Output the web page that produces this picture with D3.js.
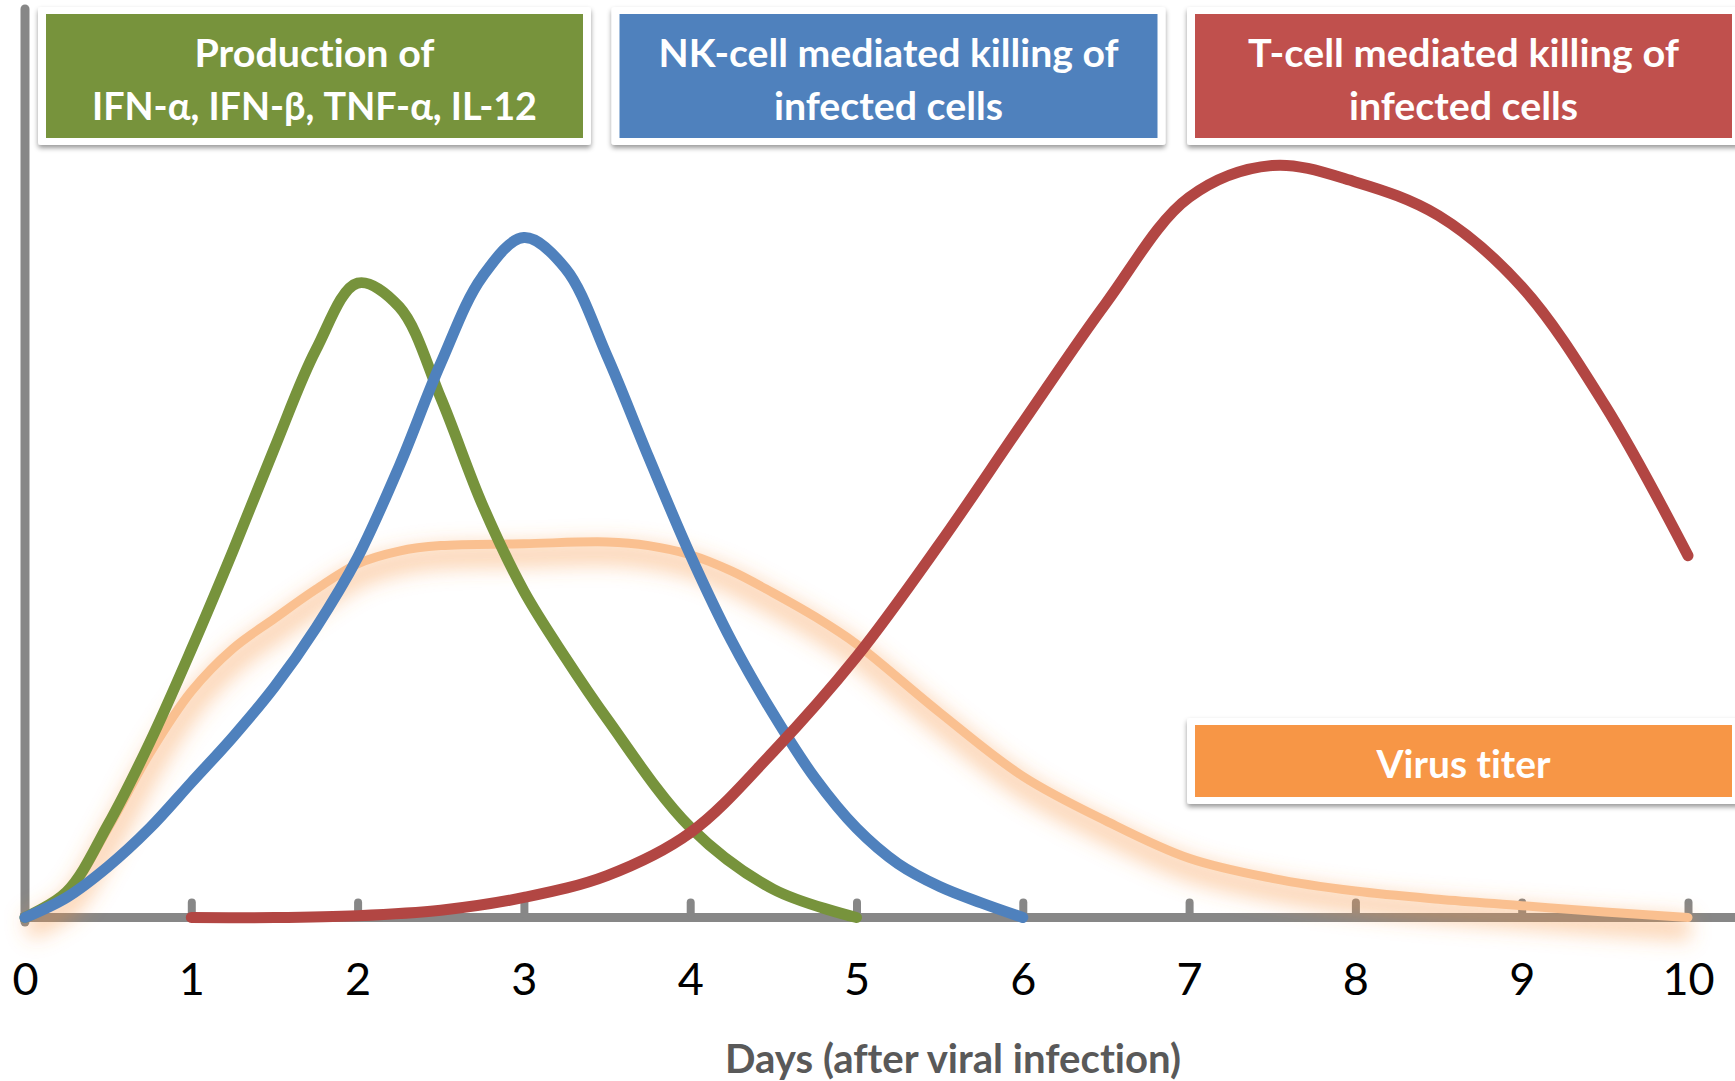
<!DOCTYPE html>
<html>
<head>
<meta charset="utf-8">
<script src="https://cdn.jsdelivr.net/npm/d3@7"></script>
<style>
  html, body { margin: 0; padding: 0; background: #ffffff; }
  svg { display: block; }
  text { font-variant-ligatures: none; font-feature-settings: "liga" 0, "clig" 0; }
</style>
</head>
<body>
<svg id="chart" width="1735" height="1081"></svg>
<script>
// ---------------- DATA ----------------
const tickLabels = [0, 1, 2, 3, 4, 5, 6, 7, 8, 9, 10];
const axisTitle = "Days (after viral infection)";

const seriesNames = ["IFN", "NK", "CTL", "Virus"];
const legendTexts = [
  ["Production of", "IFN-α, IFN-β, TNF-α, IL-12"],
  ["NK-cell mediated killing of", "infected cells"],
  ["T-cell mediated killing of", "infected cells"],
  ["Virus titer"]
];
const boxColors = ["#77933C", "#4F81BD", "#C0504D", "#F79646"];
const lineColors = ["#77933C", "#4F81BD", "#B24643", "#FAC090"];

const ifnDays   = [0, 0.25, 0.5, 0.75, 1, 1.25, 1.5, 1.75, 2, 2.25, 2.5, 2.75, 3, 3.25, 3.5, 4, 4.5, 5];
const ifnValues = [0, 2.8, 10.2, 19.2, 29.4, 40.2, 51.5, 62.3, 69.6, 67, 57, 45.3, 35.8, 28.5, 21.8, 9.9, 3.1, 0];

const nkDays   = [0, 0.25, 0.5, 0.75, 1, 1.25, 1.5, 1.75, 2, 2.25, 2.5, 2.75, 3, 3.25, 3.5, 3.75, 4, 4.25, 4.5, 4.75, 5, 5.25, 5.5, 5.75, 6];
const nkValues = [0, 2.2, 5.6, 9.8, 14.8, 19.8, 25.3, 31.8, 39.5, 49.5, 60.8, 70.3, 74.6, 71.2, 61.6, 50.5, 39.8, 30.3, 22.3, 15.3, 9.8, 5.9, 3.4, 1.6, 0];

const ctlDays   = [1, 1.5, 2, 2.5, 3, 3.5, 4, 4.5, 5, 5.5, 6, 6.5, 7, 7.5, 8, 8.5, 9, 9.5, 10];
const ctlValues = [0, 0, 0.2, 0.8, 2.2, 4.6, 9.3, 18.2, 28.6, 41, 54.3, 67.4, 79, 82.5, 80.7, 77, 69.2, 56.2, 39.7];

const virusDays   = [0, 0.25, 0.5, 0.75, 1, 1.25, 1.5, 1.75, 2, 2.25, 2.5, 3, 3.5, 3.75, 4, 4.25, 4.5, 4.75, 5, 5.5, 6, 6.5, 7, 7.5, 8, 8.5, 9, 9.5, 10];
const virusValues = [0, 2.6, 9.8, 18, 24.8, 29.5, 32.8, 36, 38.8, 40.2, 40.8, 41, 41.2, 40.8, 39.8, 38, 35.6, 33, 30, 22.5, 15.5, 10.6, 6.5, 4.3, 2.9, 2.0, 1.3, 0.6, 0];

// ---------------- LAYOUT ----------------
const W = 1735, H = 1081;
const svg = d3.select("#chart");
const x = d3.scaleLinear().domain([0, 10]).range([25, 1688]);
const y = d3.scaleLinear().domain([0, 100]).range([917.5, 6]);

const defs = svg.append("defs");
const sh = defs.append("filter").attr("id", "boxShadow")
  .attr("x", "-5%").attr("y", "-10%").attr("width", "110%").attr("height", "130%");
sh.append("feDropShadow").attr("dx", 0).attr("dy", 3).attr("stdDeviation", 2.5)
  .attr("flood-color", "#000").attr("flood-opacity", 0.4);

const glow = defs.append("filter").attr("id", "glow")
  .attr("x", "-10%").attr("y", "-20%").attr("width", "120%").attr("height", "150%");
glow.append("feGaussianBlur").attr("stdDeviation", 10);

// Axes (background)
const axisColor = "#878787";
svg.append("line")
  .attr("x1", 20.2).attr("x2", W)
  .attr("y1", y(0)).attr("y2", y(0))
  .attr("stroke", axisColor).attr("stroke-width", 9);
svg.append("line")
  .attr("x1", x(0)).attr("x2", x(0))
  .attr("y1", 9).attr("y2", y(0) + 4.5)
  .attr("stroke", axisColor).attr("stroke-width", 9).attr("stroke-linecap", "round");

// upward tick stubs using a d3 axis
const tickAxis = d3.axisBottom(x).tickValues(tickLabels.slice(1)).tickFormat("").tickSize(0).tickSizeOuter(0);
const tg = svg.append("g").attr("transform", `translate(0,${y(0) - 4})`).call(tickAxis);
tg.select(".domain").remove();
tg.selectAll(".tick line")
  .attr("y1", 0).attr("y2", -11)
  .attr("stroke", axisColor).attr("stroke-width", 8).attr("stroke-linecap", "round");

// tick labels via d3 axis
const labelAxis = d3.axisBottom(x).tickValues(tickLabels).tickFormat(d3.format("d")).tickSize(0).tickSizeOuter(0);
const lg = svg.append("g").attr("transform", `translate(0,${y(0)})`).call(labelAxis);
lg.select(".domain").remove();
lg.selectAll(".tick text")
  .attr("y", 995 - y(0)).attr("dy", null)
  .attr("fill", "#000")
  .style("font-family", "Lato, 'Open Sans', sans-serif")
  .style("font-size", "45px");

svg.append("text")
  .attr("x", 953).attr("y", 1073)
  .attr("text-anchor", "middle")
  .attr("fill", "#595959")
  .style("font-family", "Lato, 'Open Sans', sans-serif")
  .style("font-weight", 700)
  .style("font-size", "40px")
  .attr("textLength", 456)
  .attr("lengthAdjust", "spacingAndGlyphs")
  .text(axisTitle);

// ---------------- CURVES ----------------
const line = d3.line()
  .x(d => x(d[0])).y(d => y(d[1]))
  .curve(d3.curveCatmullRom.alpha(0.5));

const zipS = (xs, vs) => xs.map((d, i) => [d, vs[i]]);
const series = [
  zipS(ifnDays, ifnValues),
  zipS(nkDays, nkValues),
  zipS(ctlDays, ctlValues),
  zipS(virusDays, virusValues)
];

// virus glow + line (bottom)
svg.append("path")
  .attr("d", line(series[3]))
  .attr("fill", "none")
  .attr("stroke", "#F79646")
  .attr("stroke-opacity", 0.4)
  .attr("stroke-width", 24)
  .attr("transform", "translate(2,11)")
  .attr("filter", "url(#glow)");
svg.append("path")
  .attr("d", line(series[3]))
  .attr("fill", "none")
  .attr("stroke", lineColors[3])
  .attr("stroke-width", 9)
  .attr("stroke-linecap", "round");

[0, 1, 2].forEach(i => {
  svg.append("path")
    .attr("d", line(series[i]))
    .attr("fill", "none")
    .attr("stroke", lineColors[i])
    .attr("stroke-width", 11)
    .attr("stroke-linecap", "round")
    .attr("stroke-linejoin", "round");
});

// ---------------- LEGEND BOXES ----------------
const boxes = [
  { x: 46, y: 14, w: 537, h: 124, cx: 314.5, base: [67, 120], tw: [240, 445] },
  { x: 619.5, y: 14, w: 538, h: 124, cx: 888.5, base: [67, 120], tw: [460, 229] },
  { x: 1195, y: 14, w: 537, h: 124, cx: 1463.5, base: [67, 120], tw: [431, 229] },
  { x: 1195, y: 725, w: 537, h: 72, cx: 1463.5, base: [778], tw: [174] }
];
boxes.forEach((b, i) => {
  const g = svg.append("g");
  g.append("rect")
    .attr("x", b.x - 8).attr("y", b.y - 7)
    .attr("width", b.w + 16).attr("height", b.h + 14)
    .attr("rx", 3)
    .attr("fill", "#ffffff")
    .attr("filter", "url(#boxShadow)");
  g.append("rect")
    .attr("x", b.x).attr("y", b.y)
    .attr("width", b.w).attr("height", b.h)
    .attr("fill", boxColors[i]);
  legendTexts[i].forEach((t, j) => {
    g.append("text")
      .attr("x", b.cx).attr("y", b.base[j])
      .attr("text-anchor", "middle")
      .attr("fill", "#ffffff")
      .style("font-family", "Lato, 'Open Sans', sans-serif")
      .style("font-weight", 700)
      .style("font-size", "39px")
      .attr("textLength", b.tw[j])
      .attr("lengthAdjust", "spacingAndGlyphs")
      .text(t);
  });
});
</script>
</body>
</html>
